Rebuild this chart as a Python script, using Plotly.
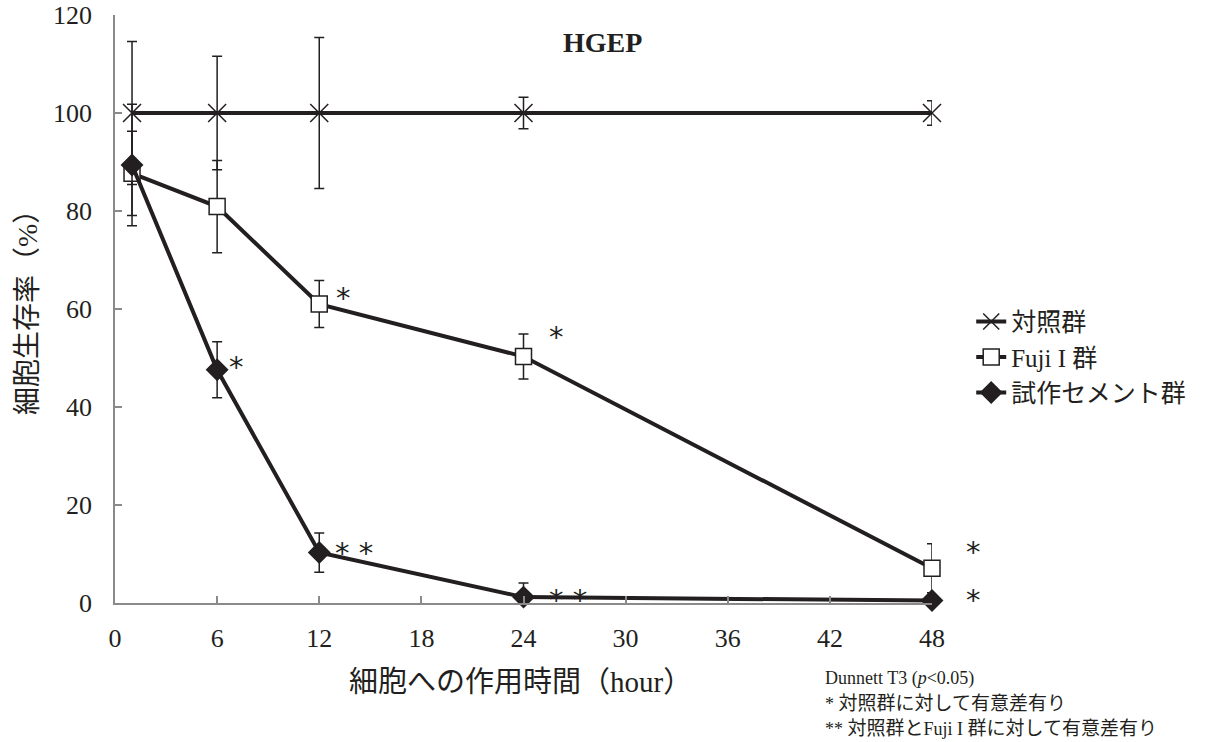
import plotly.graph_objects as go

hours = [1, 6, 12, 24, 48]
control = [100, 100, 100, 100, 100]
control_sd = [14.6, 11.6, 15.4, 3.2, 2.5]
fuji = [87.7, 80.9, 61.0, 50.3, 7.1]
fuji_sd = [8.6, 9.4, 4.8, 4.6, 5.0]
trial = [89.4, 47.6, 10.3, 1.2, 0.5]
trial_sd = [12.4, 5.7, 4.0, 2.9, 0.5]

x_ticks = [0, 6, 12, 18, 24, 30, 36, 42, 48]
y_ticks = [0, 20, 40, 60, 80, 100, 120]

# significance marks: hour index -> text
sig_fuji = {2: "*", 3: "*", 4: "*"}
sig_trial = {1: "*", 2: "* *", 3: "* *", 4: "*"}

INK = "#231f20"
SERIF = "Liberation Serif, Noto Sans CJK JP, serif"
STAR = "DejaVu Sans"

fig = go.Figure()

def add_series(name, y, sd, symbol, size, fill):
    fig.add_trace(go.Scatter(
        x=hours, y=y, name=name, mode="lines+markers",
        line=dict(color=INK, width=4),
        marker=dict(symbol=symbol, size=size, color=fill,
                    line=dict(color=INK, width=1.5)),
        error_y=dict(type="data", array=sd, visible=True,
                     color=INK, thickness=1.5, width=5),
        cliponaxis=False,
    ))

add_series("対照群", control, control_sd, "x-thin", 18, INK)
add_series("Fuji I 群", fuji, fuji_sd, "square", 16, "white")
add_series("試作セメント群", trial, trial_sd, "diamond", 16, INK)

# asterisk offsets (pixels) relative to the points
fuji_off = {2: (24, 6), 3: (33, 20), 4: (41, 16)}
trial_off = {1: (19, 3), 2: (35, 0), 3: (44, -3), 4: (41, 1)}
for i, t in sig_fuji.items():
    dx, dy = fuji_off[i]
    fig.add_annotation(x=hours[i], y=fuji[i], text=t, showarrow=False,
                       xshift=dx, yshift=dy,
                       font=dict(family=STAR, size=29, color=INK))
for i, t in sig_trial.items():
    dx, dy = trial_off[i]
    fig.add_annotation(x=hours[i], y=trial[i], text=t, showarrow=False,
                       xshift=dx, yshift=dy,
                       font=dict(family=STAR, size=29, color=INK))

# title
fig.add_annotation(xref="paper", yref="paper", x=0.597, y=1, yshift=-27,
                   xanchor="center", yanchor="middle",
                   text="<b>HGEP</b>", showarrow=False,
                   font=dict(family=SERIF, size=28, color=INK))

# axis titles
fig.add_annotation(xref="paper", yref="paper", x=0.496, y=0, yshift=-79,
                   xanchor="center", yanchor="middle",
                   text="細胞への作用時間（hour）", showarrow=False,
                   font=dict(family=SERIF, size=29, color=INK))
fig.add_annotation(xref="paper", yref="paper", x=0, y=0.505, xshift=-88,
                   xanchor="center", yanchor="middle",
                   text="細胞生存率（%）", textangle=-90, showarrow=False,
                   font=dict(family=SERIF, size=28, color=INK))

# footnotes
def cjk(s):
    return '<span style="font-size:19px">' + s + '</span>'

notes = ["Dunnett T3 (<i>p</i>&lt;0.05)",
         "* " + cjk("対照群に対して有意差有り"),
         "** " + cjk("対照群と") + "Fuji I " + cjk("群に対して有意差有り")]
for k, t in enumerate(notes):
    fig.add_annotation(xref="paper", yref="paper", x=0.8666, y=0,
                       yshift=-75 - 25 * k, xanchor="left", yanchor="middle",
                       text=t, showarrow=False, align="left",
                       font=dict(family=SERIF, size=18, color=INK))

axis_common = dict(showline=True, linecolor="#8a8a8a", linewidth=1.5,
                   ticks="inside", ticklen=7, tickcolor="#8a8a8a", tickwidth=1.5,
                   showgrid=False, zeroline=False, automargin=False,
                   tickfont=dict(family=SERIF, size=26, color=INK))

fig.update_xaxes(range=[0, 48], tickvals=x_ticks, ticklabelstandoff=11, **axis_common)
fig.update_yaxes(range=[0, 120], tickvals=y_ticks, ticklabelstandoff=16, **axis_common)

fig.update_layout(
    width=1210, height=742,
    margin=dict(l=115, r=278, t=15, b=139, autoexpand=False),
    plot_bgcolor="white", paper_bgcolor="white",
    showlegend=True,
    legend=dict(x=1.048, y=0.5175, xanchor="left", yanchor="top",
                font=dict(family=SERIF, size=25, color=INK),
                bgcolor="rgba(0,0,0,0)", itemwidth=30),
)

fig.write_html("out.html", config={"displayModeBar": False},
               post_script="document.body.style.margin='0';document.body.style.padding='0';")
